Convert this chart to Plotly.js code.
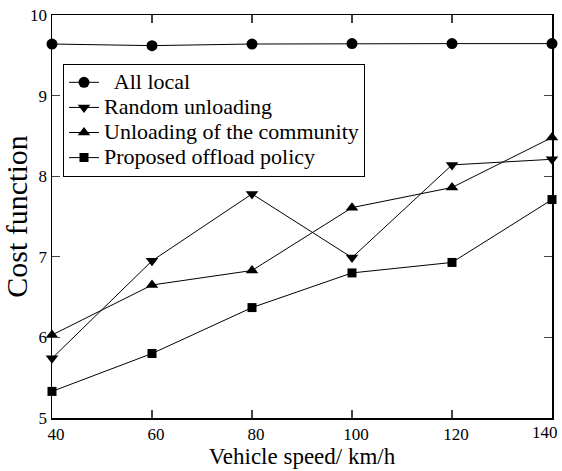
<!DOCTYPE html>
<html>
<head>
<meta charset="utf-8">
<script src="https://cdn.plot.ly/plotly-3.0.1.min.js"></script>
<style>html,body{margin:0;padding:0;background:#fff;}#chart{width:562px;height:471px;}</style>
</head>
<body>
<div id="chart"></div>
<script>
var speeds = [40, 60, 80, 100, 120, 140];
var speedLabels = ['40', '60', '80', '100', '120', '140'];
var allLocal = [9.64, 9.62, 9.64, 9.645, 9.645, 9.645];
var randomUnloading = [5.74, 6.95, 7.78, 6.99, 8.14, 8.21];
var communityUnloading = [6.03, 6.65, 6.83, 7.61, 7.86, 8.48];
var proposedPolicy = [5.33, 5.80, 6.37, 6.80, 6.93, 7.71];
var seriesNames = ['  All local', 'Random unloading', 'Unloading of the community', 'Proposed offload policy'];
var symbols = ['circle', 'triangle-down', 'triangle-up', 'square'];
var values = [allLocal, randomUnloading, communityUnloading, proposedPolicy];

var traces = values.map(function (v, i) {
  return {
    x: speeds, y: v, name: '<span style="font-size:22px">' + seriesNames[i] + '</span>',
    type: 'scatter', mode: 'lines+markers',
    line: {color: '#000', width: 1},
    marker: {symbol: symbols[i], size: symbols[i] === 'square' ? 9 : 11, color: '#000'},
    cliponaxis: false
  };
});

var font = 'Liberation Serif, Times New Roman, serif';
var lastIdx = speeds.length - 1;
var tickText = speedLabels.map(function (t, i) { return i === lastIdx ? '' : t; });

var layout = {
  width: 562, height: 471,
  margin: {l: 52, r: 10, t: 15, b: 53},
  paper_bgcolor: '#fff', plot_bgcolor: '#fff',
  font: {family: font, color: '#000', size: 16},
  showlegend: true,
  legend: {
    x: 0.022, y: 0.879, xanchor: 'left', yanchor: 'top',
    bgcolor: '#fff', bordercolor: '#000', borderwidth: 1,
    font: {family: font, size: 17, color: '#000'},
    tracegroupgap: 0
  },
  xaxis: {
    range: [40, 140], tickvals: speeds, ticktext: tickText, ticks: 'inside', ticklen: 8, tickwidth: 1.2,
    showline: true, linewidth: 1.5, linecolor: '#000', mirror: 'ticks',
    showgrid: false, zeroline: false, ticklabelshift: 4,
    tickfont: {family: font, size: 17},
    title: {text: 'Vehicle speed/ km/h', font: {family: font, size: 23}, standoff: 4}
  },
  yaxis: {
    range: [5, 10], dtick: 1, ticks: 'inside', ticklen: 8, tickwidth: 1.2,
    showline: true, linewidth: 1.5, linecolor: '#000', mirror: 'ticks',
    showgrid: false, zeroline: false,
    tickfont: {family: font, size: 17},
    title: {text: 'Cost function', font: {family: font, size: 30}, standoff: 2}
  },
  annotations: [{
    x: speeds[lastIdx], xref: 'x', y: 0, yref: 'paper', yanchor: 'top', xanchor: 'right',
    xshift: 8, yshift: -3, text: speedLabels[lastIdx], showarrow: false,
    font: {family: font, size: 17, color: '#000'}
  }]
};
Plotly.newPlot('chart', traces, layout, {displayModeBar: false, staticPlot: true});
</script>
</body>
</html>
